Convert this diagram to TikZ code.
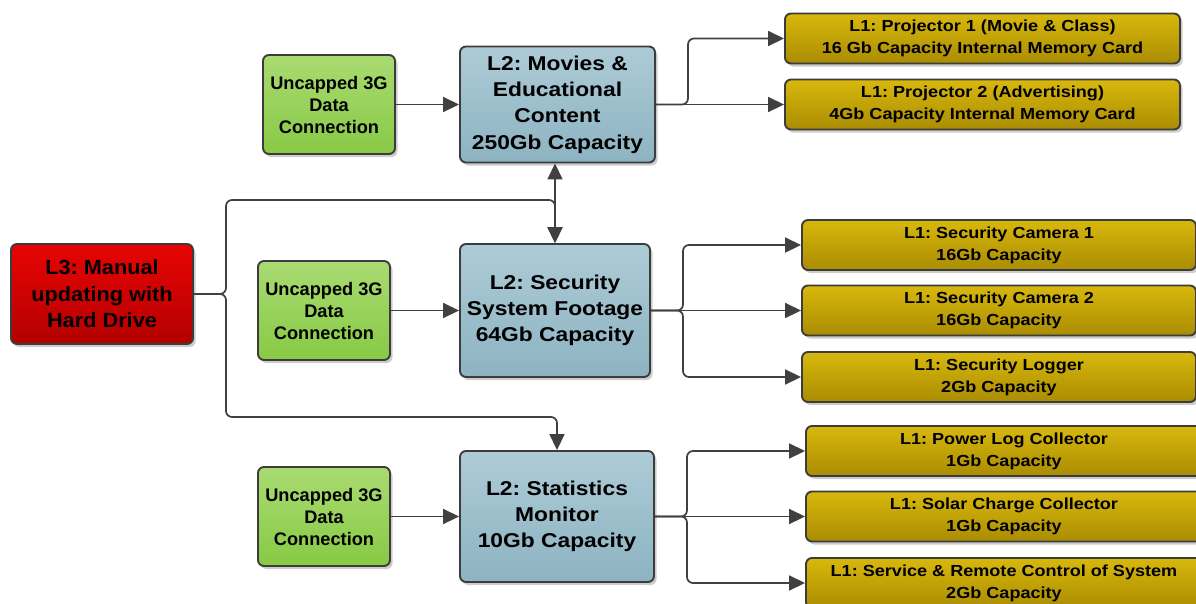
\documentclass[tikz,border=0pt]{standalone}
\usepackage{fontspec}
\setmainfont{Liberation Sans}
\newfontfamily\goldfont{Liberation Sans}[FakeStretch=1.13]
\newfontfamily\bluefont{Liberation Sans}[FakeStretch=1.14]
\newfontfamily\redfont{Liberation Sans}[FakeStretch=1.06]
\usetikzlibrary{arrows.meta,shadows,calc}

\definecolor{edge}{HTML}{3C3C3C}
\definecolor{wire}{HTML}{404040}
\definecolor{grnA}{HTML}{A9DB72}
\definecolor{grnB}{HTML}{88C945}
\definecolor{bluA}{HTML}{ADCBD6}
\definecolor{bluB}{HTML}{8DB3C2}
\definecolor{redA}{HTML}{E80404}
\definecolor{redB}{HTML}{B30000}
\definecolor{gldA}{HTML}{D8B80C}
\definecolor{gldB}{HTML}{AA8C02}

\tikzset{
  card/.style={draw=edge, line width=1.9pt, rounded corners=6pt, align=center,
    inner sep=0pt, text=black, shading angle=45,
    drop shadow={shadow xshift=2.5pt, shadow yshift=-3pt, fill=black, opacity=0.2}},
  greenbox/.style={card, top color=grnA, bottom color=grnB,
    minimum width=132pt, minimum height=99pt,
    font=\fontsize{18.2}{22}\selectfont\bfseries},
  bluebox/.style={card, top color=bluA, bottom color=bluB,
    font=\bluefont\fontsize{20}{26.3}\selectfont\bfseries},
  redbox/.style={card, top color=redA, bottom color=redB,
    minimum width=182pt, minimum height=100pt,
    font=\redfont\fontsize{20.5}{26.5}\selectfont\bfseries},
  goldbox/.style={card, top color=gldA, bottom color=gldB,
    minimum height=50pt,
    font=\goldfont\fontsize{16}{22}\selectfont\bfseries},
  tip/.style={Triangle[length=16pt,width=15pt]},
  arr/.style={draw=wire, line width=1.7pt, rounded corners=6pt, -{Triangle[length=16pt,width=15pt]}},
  dbl/.style={arr, {Triangle[length=16pt,width=15pt]}-{Triangle[length=16pt,width=15pt]}}
}

\begin{document}
\frenchspacing
\begin{tikzpicture}[x=1pt,y=-1pt]
\useasboundingbox (0,0) rectangle (1196,603);

% level 3
\node[redbox] (hd) at (102,294) {L3: Manual\\updating with\\Hard Drive};

% 3G links
\node[greenbox] (g1) at (329,104.5) {Uncapped 3G\\Data\\Connection};
\node[greenbox] (g2) at (324,310.5) {Uncapped 3G\\Data\\Connection};
\node[greenbox] (g3) at (324,516.5) {Uncapped 3G\\Data\\Connection};

% level 2
\node[bluebox, minimum width=195pt, minimum height=116pt] (movies) at (557.5,104.5)
  {L2: Movies \&\\Educational\\Content\\250Gb Capacity};
\node[bluebox, minimum width=190pt, minimum height=133pt] (security) at (555,310.5)
  {L2: Security\\System Footage\\64Gb Capacity};
\node[bluebox, minimum width=194pt, minimum height=131pt] (stats) at (557,516.5)
  {L2: Statistics\\Monitor\\10Gb Capacity};

% level 1
\node[goldbox, minimum width=395pt] (p1) at (982.5,38.5)
  {L1: Projector 1 (Movie \& Class)\\16 Gb Capacity Internal Memory Card};
\node[goldbox, minimum width=395pt] (p2) at (982.5,104.5)
  {L1: Projector 2 (Advertising)\\4Gb Capacity Internal Memory Card};

\node[goldbox, minimum width=394pt] (c1) at (999,245) {L1: Security Camera 1\\16Gb Capacity};
\node[goldbox, minimum width=394pt] (c2) at (999,310.5) {L1: Security Camera 2\\16Gb Capacity};
\node[goldbox, minimum width=394pt] (lg) at (999,377) {L1: Security Logger\\2Gb Capacity};

\node[goldbox, minimum width=396pt] (pw) at (1004,451) {L1: Power Log Collector\\1Gb Capacity};
\node[goldbox, minimum width=396pt] (sc) at (1004,516.5) {L1: Solar Charge Collector\\1Gb Capacity};
\node[goldbox, minimum width=396pt] (sv) at (1004,583) {L1: Service \& Remote Control of System\\2Gb Capacity};

% junction points
\coordinate (fm) at (688,104.5);
\coordinate (fs) at (683,310.5);
\coordinate (ft) at (687,516.5);
\coordinate (hup) at (226,200);
\coordinate (hdn) at (226,417);

% 3G feeds
\draw[arr] (g1) -- (movies);
\draw[arr] (g2) -- (security);
\draw[arr] (g3) -- (stats);

% hard drive distribution
\draw[arr] (hd.east) -| (hup) -| (security.north);
\draw[arr] (hd.east) -| (hdn) -| (stats.north);
\draw[dbl] (movies.south -| security.north) -- (security.north);

% level 2 to level 1
\draw[arr] (movies.east) -- (fm) |- (p1.west);
\draw[arr] (movies.east) -- (p2.west);

\draw[arr] (security.east) -- (fs) |- (c1.west);
\draw[arr] (security.east) -- (c2.west);
\draw[arr] (security.east) -- (fs) |- (lg.west);

\draw[arr] (stats.east) -- (ft) |- (pw.west);
\draw[arr] (stats.east) -- (sc.west);
\draw[arr] (stats.east) -- (ft) |- (sv.west);
\end{tikzpicture}
\end{document}
